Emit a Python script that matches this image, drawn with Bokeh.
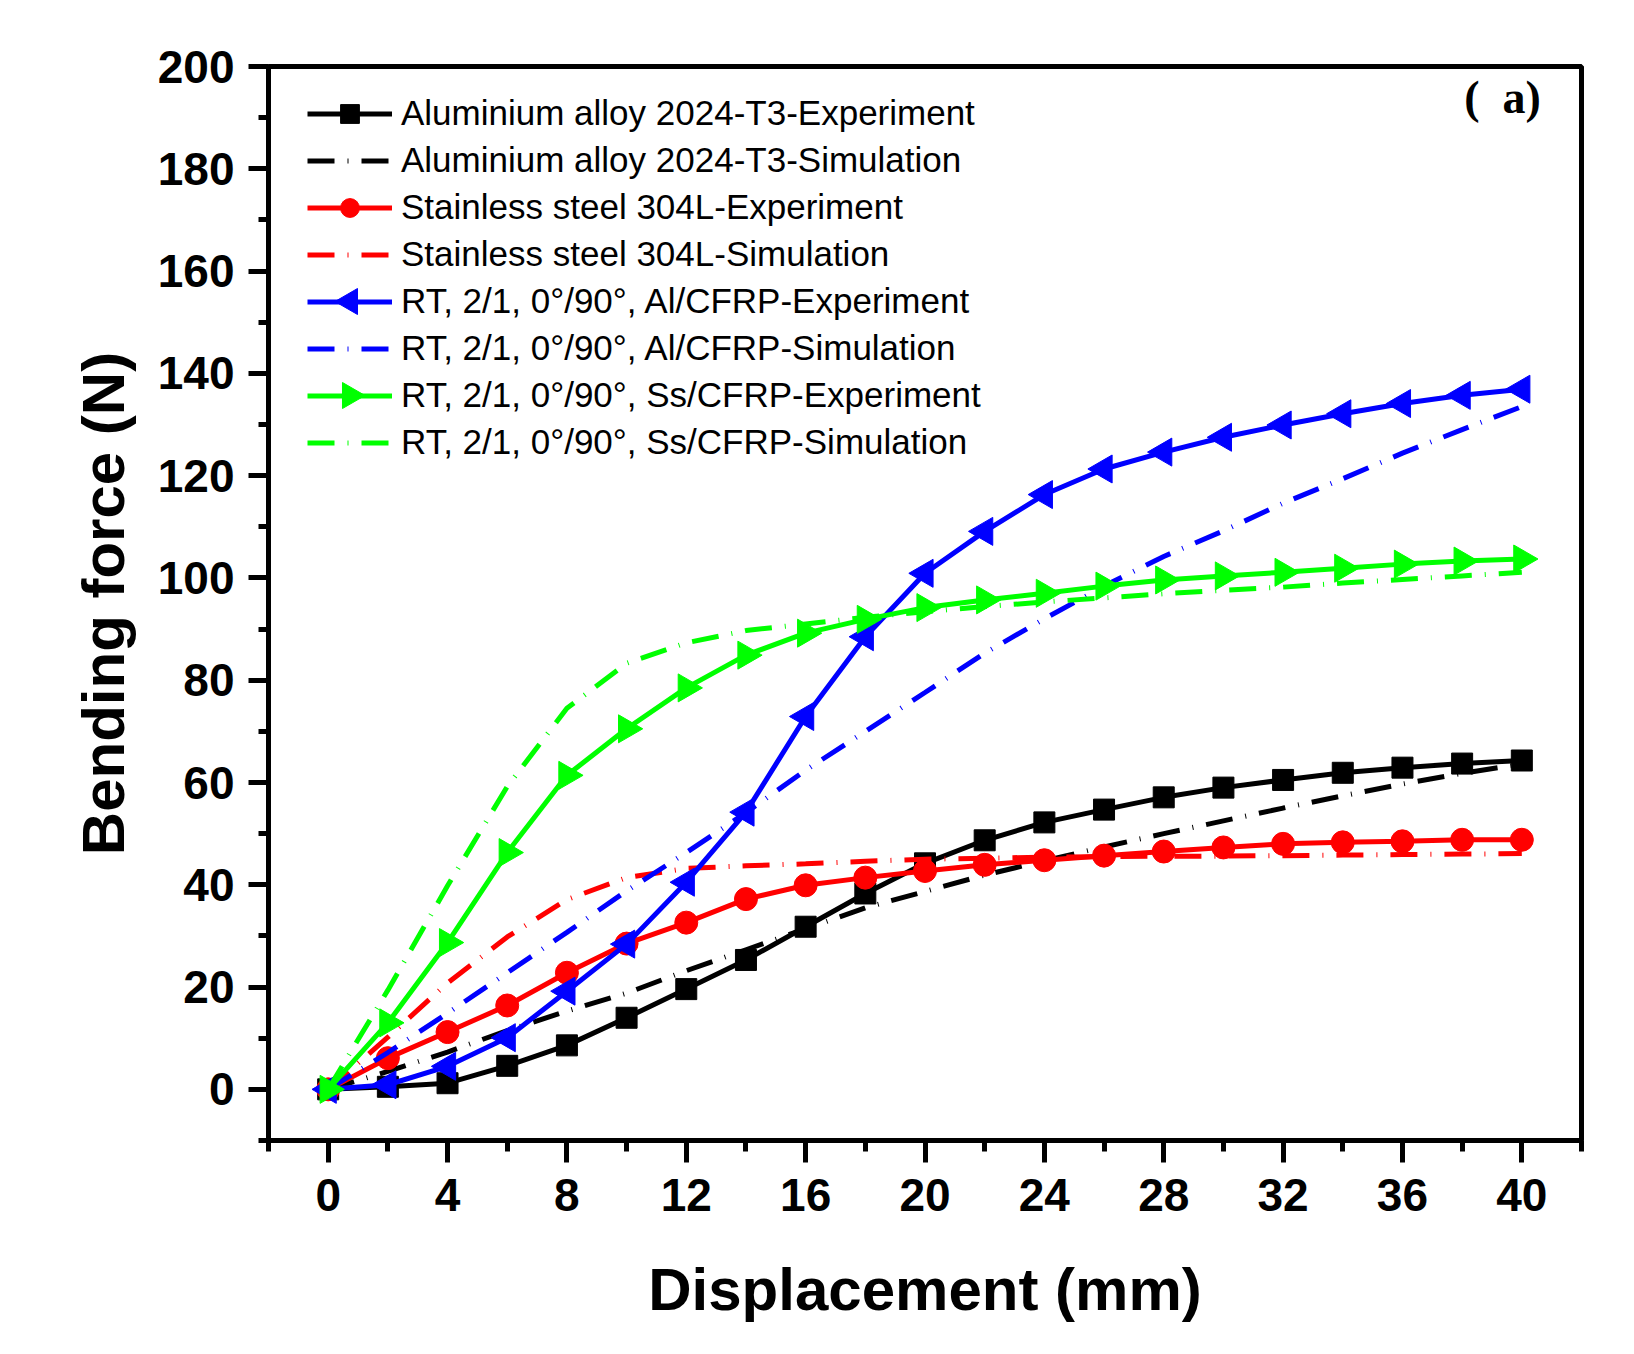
import numpy as np
from bokeh.plotting import figure
from bokeh.models import Range1d, FixedTicker, Legend, LegendItem, Label
from bokeh.embed import file_html
from bokeh.resources import INLINE

# ---------------- data ----------------
displacement = [0, 2, 4, 6, 8, 10, 12, 14, 16, 18, 20, 22, 24, 26, 28, 30, 32, 34, 36, 38, 40]

al_exp = [0, 0.5, 1.2, 4.6, 8.6, 14.0, 19.6, 25.3, 31.8, 38.3, 44.2, 48.7, 52.2, 54.7, 57.1,
          59.0, 60.5, 61.9, 62.9, 63.7, 64.3]
al_sim = [0, 3.5, 7.3, 11.5, 15.3, 18.8, 23.2, 27.3, 31.4, 35.5, 38.7, 41.9, 44.7, 47.4, 50.0,
          52.5, 55.0, 57.4, 59.7, 61.8, 63.6]
ss_exp = [0, 6.1, 11.2, 16.4, 22.8, 28.5, 32.6, 37.2, 39.9, 41.4, 42.7, 43.9, 44.8, 45.7, 46.5,
          47.3, 48.0, 48.3, 48.5, 48.8, 48.8]
ss_sim = [0, 10.2, 20.8, 29.8, 37.1, 41.4, 43.2, 43.7, 44.1, 44.6, 45.0, 45.2, 45.4, 45.5, 45.6,
          45.6, 45.7, 45.8, 45.9, 46.0, 46.1]
alcf_exp = [0, 0.9, 4.5, 10.1, 19.2, 28.4, 40.5, 54.2, 72.9, 88.5, 100.9, 109.1, 116.3, 121.3,
            124.6, 127.5, 129.9, 132.1, 134.1, 135.7, 136.9]
alcf_sim = [0, 7.2, 14.9, 22.8, 30.7, 38.8, 46.3, 54.1, 62.4, 70.0, 77.6, 85.3, 92.0, 98.4,
            104.2, 109.2, 114.6, 119.4, 124.4, 129.0, 133.5]
sscf_exp = [0, 13.0, 28.7, 46.3, 61.4, 70.5, 78.5, 84.9, 89.2, 91.9, 94.2, 95.7, 97.0, 98.4,
            99.6, 100.4, 101.1, 101.9, 102.7, 103.3, 103.7]
sscf_sim = [0, 19.4, 39.8, 59.2, 74.5, 83.3, 87.3, 89.7, 91.0, 92.3, 93.4, 94.4, 95.3, 96.1,
            96.9, 97.6, 98.2, 99.0, 99.7, 100.4, 101.1]

labels = [
    "Aluminium alloy 2024-T3-Experiment",
    "Aluminium alloy 2024-T3-Simulation",
    "Stainless steel 304L-Experiment",
    "Stainless steel 304L-Simulation",
    "RT, 2/1, 0\u00b0/90\u00b0, Al/CFRP-Experiment",
    "RT, 2/1, 0\u00b0/90\u00b0, Al/CFRP-Simulation",
    "RT, 2/1, 0\u00b0/90\u00b0, Ss/CFRP-Experiment",
    "RT, 2/1, 0\u00b0/90\u00b0, Ss/CFRP-Simulation",
]

x_ticks = [0, 4, 8, 12, 16, 20, 24, 28, 32, 36, 40]
x_minor = [-2, 2, 6, 10, 14, 18, 22, 26, 30, 34, 38, 42]
y_ticks = [0, 20, 40, 60, 80, 100, 120, 140, 160, 180, 200]
y_minor = [-10, 10, 30, 50, 70, 90, 110, 130, 150, 170, 190]

# ---------------- layout constants ----------------
FW, FH = 1313, 1074
X0, X1, Y0, Y1 = -2, 42, -10, 200
LEG_LEFT, LEG_TOP, ROW_H, GLYPH_W = 39, 23.5, 47, 85

# ---------------- figure ----------------
p = figure(frame_width=FW, frame_height=FH,
           min_border_left=268, min_border_top=66, min_border_right=45, min_border_bottom=206,
           x_range=Range1d(X0, X1), y_range=Range1d(Y0, Y1),
           output_backend="svg", toolbar_location=None)
p.xgrid.visible = False
p.ygrid.visible = False
p.outline_line_color = "black"
p.outline_line_width = 5
p.background_fill_color = "white"
p.border_fill_color = "white"

FONT = "Liberation Sans"

for ax in (p.xaxis[0], p.yaxis[0]):
    ax.axis_line_width = 5
    ax.major_tick_line_width = 5
    ax.minor_tick_line_width = 5
    ax.major_tick_in = 0
    ax.minor_tick_in = 0
    ax.major_label_text_font = FONT
    ax.major_label_text_font_style = "bold"
    ax.major_label_text_font_size = "46px"
    ax.major_label_text_color = "black"
    ax.axis_label_text_font = FONT
    ax.axis_label_text_font_style = "bold"
    ax.axis_label_text_font_size = "60px"
    ax.axis_label_text_color = "black"

p.xaxis.ticker = FixedTicker(ticks=x_ticks, minor_ticks=x_minor)
p.yaxis.ticker = FixedTicker(ticks=y_ticks, minor_ticks=y_minor)
p.xaxis.major_tick_out = 22
p.xaxis.minor_tick_out = 11
p.yaxis.major_tick_out = 20
p.yaxis.minor_tick_out = 10
p.xaxis.major_label_standoff = 16
p.yaxis.major_label_standoff = 14
p.xaxis.axis_label = "Displacement (mm)"
p.yaxis.axis_label = "Bending force (N)"
p.xaxis.axis_label_standoff = 42
p.yaxis.axis_label_standoff = 18

LW = 5
DASH = "27 13 1 13"

series = [
    (al_exp, "#000000", "square", 21, 0.0, None),
    (al_sim, "#000000", None, 0, 0.0, DASH),
    (ss_exp, "#FF0000", "circle", 23, 0.0, None),
    (ss_sim, "#FF0000", None, 0, 0.0, DASH),
    (alcf_exp, "#0000FF", "triangle", 28, np.pi / 2, None),
    (alcf_sim, "#0000FF", None, 0, 0.0, DASH),
    (sscf_exp, "#00FF00", "triangle", 28, -np.pi / 2, None),
    (sscf_sim, "#00FF00", None, 0, 0.0, DASH),
]

items = []
rotated_keys = []
for row, ((ys, col, mk, sz, ang, dash), lab) in enumerate(zip(series, labels)):
    if dash is None:
        r1 = p.line(displacement, ys, line_color=col, line_width=LW)
        r2 = p.scatter(displacement, ys, marker=mk, size=sz, angle=ang,
                       fill_color=col, line_color=col, line_width=1)
        if ang != 0.0:
            # Bokeh's legend ignores marker angle: key shows the line only,
            # the rotated marker is drawn on top of the key afterwards
            items.append(LegendItem(label=lab, renderers=[r1]))
            rotated_keys.append((row, mk, ang, col))
        else:
            items.append(LegendItem(label=lab, renderers=[r1, r2]))
    else:
        r1 = p.line(displacement, ys, line_color=col, line_width=LW, line_dash=dash)
        items.append(LegendItem(label=lab, renderers=[r1]))

n_rows = len(items)
legend = Legend(items=items, location=(LEG_LEFT, FH - LEG_TOP - n_rows * ROW_H),
                padding=0, margin=0,
                border_line_alpha=0, background_fill_alpha=0,
                glyph_width=GLYPH_W, glyph_height=ROW_H, label_height=ROW_H, spacing=0,
                label_standoff=9, label_text_font=FONT, label_text_font_size="35px",
                label_text_color="black")
p.add_layout(legend)

# rotated markers of the legend keys (positions follow from the legend layout above)
for row, mk, ang, col in rotated_keys:
    kx = X0 + (LEG_LEFT + GLYPH_W / 2) * (X1 - X0) / FW
    ky = Y1 - (LEG_TOP + ROW_H * (row + 0.5)) * (Y1 - Y0) / FH
    p.scatter([kx], [ky], marker=mk, size=26, angle=ang, fill_color=col, line_color=col,
              line_width=1)

p.add_layout(Label(x=38.07, y=194.0, text="( \u00a0a)", text_font="Liberation Serif",
                   text_font_style="bold", text_font_size="46px", text_baseline="middle",
                   text_color="black"))

open("out.html", "w").write(file_html(p, INLINE))
